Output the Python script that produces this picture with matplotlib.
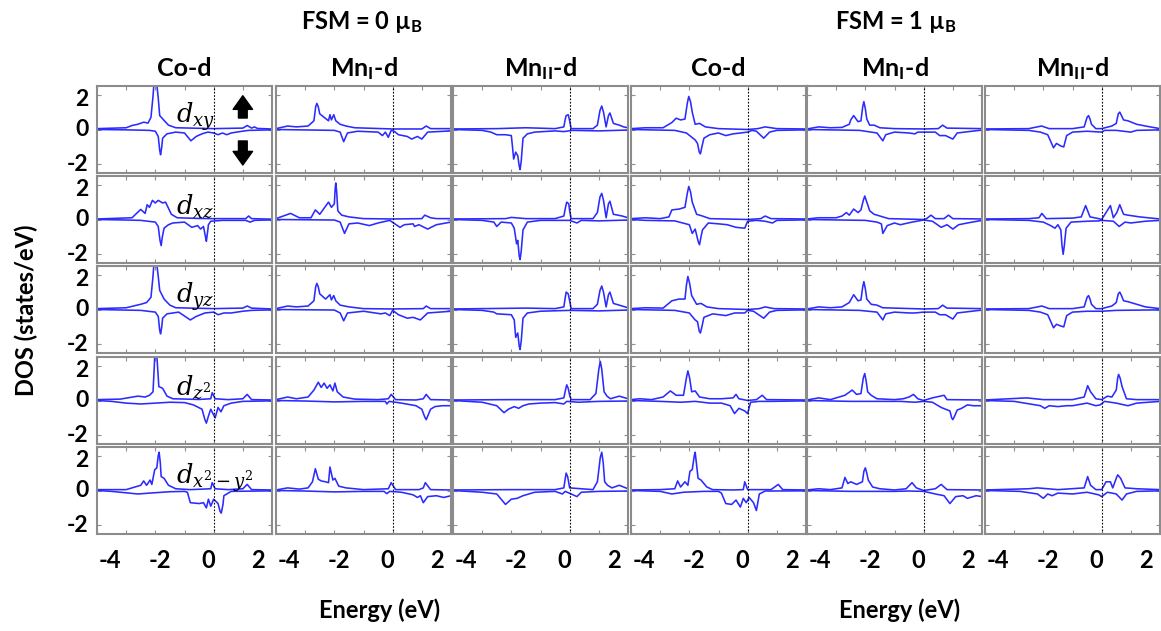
import numpy as np
import matplotlib
matplotlib.use("Agg")
import matplotlib.pyplot as plt
import matplotlib.transforms as mtrans
from matplotlib.patches import FancyArrowPatch

plt.rcParams['font.family'] = ['Lato', 'DejaVu Sans']
plt.rcParams['mathtext.fontset'] = 'custom'
plt.rcParams['mathtext.bf'] = 'Lato:bold'
plt.rcParams['mathtext.it'] = 'DejaVu Serif:italic'
plt.rcParams['mathtext.rm'] = 'DejaVu Serif'

# ---- data: (energy eV, DOS) vertices ----
# rows: d_xy, d_xz, d_yz, d_z2, d_x2-y2 ; up = spin up (>0), dn = spin down (<0)

co_fsm0_up = [
    [(-4, .05), (-3, .1), (-2.8, .23), (-2.6, .3), (-2.4, .42), (-2.25, .37), (-2.15, .7), (-2.08, 1.9), (-2.05, 2.6), (-1.95, 2.6),
     (-1.9, 1.8), (-1.85, .8), (-1.7, .52), (-1.55, .25), (-1.3, .1), (0, .05), (1.0, .08), (1.15, .23), (1.3, .08), (1.4, .15), (1.5, .06), (2, .03)],
    [(-4, .03), (-2.8, .1), (-2.5, .58), (-2.35, .35), (-2.28, .85), (-2.2, .7), (-2.1, 1.1), (-2.0, .95), (-1.9, 1.1), (-1.75, .95),
     (-1.65, 1.0), (-1.45, .3), (-1.25, .1), (-.5, .06), (0, .05), (1.1, .05), (1.2, .2), (1.3, .05), (2, .02)],
    [(-4, .05), (-3, .1), (-2.75, .2), (-2.5, .3), (-2.3, .4), (-2.15, .7), (-2.08, 1.9), (-2.05, 2.6), (-1.95, 2.6), (-1.9, 1.9),
     (-1.85, 1.1), (-1.7, .6), (-1.5, .25), (-1.3, .1), (0, .05), (1.0, .08), (1.15, .2), (1.3, .08), (2, .03)],
    [(-4, .05), (-3.2, .08), (-2.6, .25), (-2.35, .2), (-2.2, .3), (-2.08, .5), (-2.04, 1.8), (-2.02, 2.6), (-1.95, 2.6), (-1.91, 1.6),
     (-1.88, .8), (-1.75, .7), (-1.6, .25), (-1.4, .1), (-.5, .06), (-.1, .1), (-.05, .45), (.05, .1), (.5, .05), (1.0, .1), (1.15, .35),
     (1.3, .05), (2, .03)],
    [(-4, .05), (-3, .05), (-2.5, .3), (-2.4, .55), (-2.3, .3), (-2.18, .6), (-2.12, .35), (-2.02, 1.2), (-1.95, 1.3), (-1.9, 2.0),
     (-1.87, 2.2), (-1.83, 1.6), (-1.8, .8), (-1.7, .7), (-1.55, .3), (-1.3, .1), (-.8, .05), (-.1, .1), (-.05, .45), (.05, .1), (.5, .05),
     (1.0, .1), (1.15, .35), (1.3, .05), (2, .03)],
]
co_fsm0_dn = [
    [(-4, 0), (-3, -.02), (-2.2, -.05), (-2.0, -.1), (-1.9, -.4), (-1.85, -1.2), (-1.82, -1.45), (-1.78, -1.0), (-1.75, -.5),
     (-1.6, -.25), (-1.3, -.15), (-1.0, -.2), (-.78, -.65), (-.6, -.4), (-.4, -.25), (-.2, -.15), (0, -.2), (.15, -.3), (.3, -.2),
     (.45, -.3), (.6, -.2), (.9, -.12), (1.2, -.05), (2, -.02)],
    [(-4, 0), (-3, -.03), (-2.5, -.05), (-2.0, -.15), (-1.9, -.4), (-1.84, -1.2), (-1.8, -1.5), (-1.76, -1.0), (-1.7, -.5),
     (-1.55, -.3), (-1.4, -.2), (-1.0, -.15), (-.75, -.45), (-.55, -.35), (-.45, -.55), (-.35, -.4), (-.28, -1.0), (-.25, -1.25),
     (-.2, -.6), (-.18, -.3), (-.1, -.1), (.3, -.05), (1.1, -.05), (1.25, -.15), (1.4, -.05), (2, -.02)],
    [(-4, 0), (-2.5, -.05), (-2.0, -.15), (-1.9, -.4), (-1.85, -1.2), (-1.82, -1.4), (-1.78, -1.0), (-1.75, -.5), (-1.6, -.25),
     (-1.2, -.15), (-.8, -.6), (-.6, -.4), (-.3, -.2), (0, -.15), (.15, -.3), (.35, -.2), (.6, -.2), (1.0, -.1), (1.3, -.05), (2, -.02)],
    [(-4, 0), (-3.5, -.05), (-3.0, -.15), (-2.5, -.2), (-2.0, -.15), (-1.5, -.1), (-1.0, -.12), (-.7, -.25), (-.4, -.5), (-.3, -1.1),
     (-.25, -1.3), (-.18, -.9), (-.1, -.5), (.05, -1.0), (.15, -.4), (.25, -.65), (.35, -.3), (.6, -.15), (1.0, -.05), (2, -.02)],
    [(-4, 0), (-3.5, -.05), (-2.6, -.2), (-2.2, -.15), (-1.5, -.07), (-1.0, -.05), (-.9, -.1), (-.8, -.7), (-.5, -.75), (-.35, -.7),
     (-.25, -1.0), (-.18, -.5), (-.1, -.9), (0, -.5), (.15, -.75), (.22, -1.2), (.26, -1.3), (.32, -.8), (.35, -.3), (.6, -.05), (2, -.02)],
]

mnI_fsm0_up = [
    [(-4, .05), (-3.6, .2), (-3.3, .15), (-2.9, .2), (-2.7, .5), (-2.64, 1.3), (-2.6, 1.5), (-2.55, 1.3), (-2.5, .9), (-2.35, .7),
     (-2.2, .5), (-2.15, .85), (-2.1, .55), (-2.02, .85), (-1.95, .5), (-1.8, .3), (-1.6, .2), (-1.3, .1), (0, .03), (1.0, .03),
     (1.15, .2), (1.3, .05), (2, .05)],
    [(-4, .05), (-3.5, .35), (-3.2, .1), (-2.8, .1), (-2.65, .55), (-2.5, .3), (-2.35, .65), (-2.2, 1.0), (-2.1, .7), (-2.0, .9),
     (-1.97, 1.8), (-1.95, 2.1), (-1.92, 1.6), (-1.88, .5), (-1.75, .25), (-1.5, .15), (-1.0, .05), (0, .03), (1.0, .05), (1.1, .25),
     (1.3, .1), (1.5, .05), (2, .05)],
    [(-4, .05), (-3.6, .2), (-3.3, .15), (-2.9, .2), (-2.7, .5), (-2.64, 1.3), (-2.6, 1.5), (-2.55, 1.3), (-2.5, .9), (-2.3, .6),
     (-2.15, .85), (-2.1, .55), (-2.02, .8), (-1.95, .5), (-1.8, .25), (-1.5, .15), (-1.0, .05), (0, .03), (1.05, .05), (1.15, .2),
     (1.3, .05), (2, .05)],
    [(-4, .05), (-3.6, .2), (-3.3, .1), (-2.9, .2), (-2.7, .6), (-2.55, 1.05), (-2.45, .75), (-2.35, 1.0), (-2.25, .7), (-2.15, .9),
     (-2.05, .55), (-1.98, 1.0), (-1.9, .5), (-1.7, .2), (-1.3, .08), (-.5, .05), (-.15, .1), (-.05, .35), (.1, .05), (.8, .03),
     (1.05, .1), (1.15, .35), (1.3, .05), (2, .03)],
    [(-4, .03), (-3.6, .15), (-3.2, .08), (-2.9, .15), (-2.75, .5), (-2.65, 1.25), (-2.55, .65), (-2.45, .55), (-2.3, .5), (-2.2, .45),
     (-2.15, 1.35), (-2.05, .6), (-1.98, .7), (-1.85, .25), (-1.6, .15), (-1.0, .05), (-.15, .1), (-.05, .45), (.1, .05), (.9, .05),
     (1.05, .15), (1.12, .45), (1.3, .05), (2, .03)],
]
mnI_fsm0_dn = [
    [(-4, 0), (-2.0, -.05), (-1.8, -.15), (-1.68, -.7), (-1.55, -.2), (-1.2, -.1), (-.5, -.15), (-.35, -.35), (-.25, -.15), (-.15, -.45),
     (-.05, -.05), (.05, -.1), (.2, -.3), (.5, -.4), (.65, -.55), (.85, -.4), (1.0, -.55), (1.2, -.15), (2, -.08)],
    [(-4, 0), (-2.0, -.03), (-1.8, -.15), (-1.65, -.8), (-1.5, -.25), (-1.2, -.2), (-.8, -.35), (-.5, -.2), (-.1, -.05), (.25, -.45),
     (.4, -.3), (.7, -.25), (.75, -.4), (.9, -.3), (1.2, -.55), (1.5, -.3), (2, -.15)],
    [(-4, 0), (-2.0, -.03), (-1.8, -.2), (-1.68, -.65), (-1.55, -.2), (-1.0, -.1), (-.4, -.25), (-.25, -.2), (-.1, -.35), (0, -.05),
     (.2, -.3), (.5, -.5), (.7, -.45), (.95, -.6), (1.2, -.2), (2, -.1)],
    [(-4, 0), (-3, -.03), (-2.0, -.08), (-1.0, -.05), (-.25, -.05), (-.2, -.2), (-.12, -.05), (.3, -.15), (.8, -.3), (1.0, -.5),
     (1.1, -.95), (1.15, -1.1), (1.2, -.9), (1.3, -.5), (1.45, -.35), (1.7, -.3), (2, -.3)],
    [(-4, 0), (-3, -.03), (-2, -.08), (-1.0, -.05), (-.3, -.05), (-.2, -.18), (-.1, -.05), (.3, -.1), (.7, -.25), (.85, -.4),
     (.95, -.3), (1.05, -.7), (1.2, -.35), (1.5, -.3), (1.75, -.4), (2, -.3)],
]

mnII_fsm0_up = [
    [(-4, .03), (-2.5, .05), (-1.5, .1), (-.5, .05), (-.2, .15), (-.15, .6), (-.12, .8), (-.05, .85), (0, .5), (.05, .05), (.8, .05),
     (.95, .25), (1.04, 1.1), (1.1, 1.35), (1.16, 1.0), (1.25, .15), (1.33, .8), (1.38, .95), (1.5, .35), (1.7, .25), (1.85, .15), (2, .1)],
    [(-4, .03), (-2.2, .05), (-2.0, .12), (-1.5, .05), (-.5, .05), (-.2, .2), (-.13, .8), (-.1, 1.0), (-.03, .9), (0, .5), (.05, .05),
     (.8, .05), (.95, .4), (1.04, 1.3), (1.1, 1.5), (1.16, 1.1), (1.25, .1), (1.33, .9), (1.38, 1.05), (1.5, .3), (1.8, .2), (2, .1)],
    [(-4, .03), (-1.5, .08), (-.5, .05), (-.2, .15), (-.15, .7), (-.12, 1.0), (-.05, .9), (0, .5), (.05, .05), (.8, .05), (.95, .3),
     (1.04, 1.1), (1.1, 1.35), (1.16, 1.0), (1.25, .15), (1.33, .85), (1.38, 1.0), (1.5, .35), (1.8, .2), (2, .1)],
    [(-4, .03), (-2, .05), (-.5, .05), (-.2, .15), (-.13, .7), (-.1, .9), (-.05, .7), (0, .3), (.05, .05), (.7, .05), (.9, .4),
     (1.0, 1.8), (1.05, 2.25), (1.1, 1.8), (1.18, .5), (1.28, .25), (1.4, .1), (1.7, .25), (2, .1)],
    [(-4, .03), (-2, .05), (-.5, .05), (-.2, .15), (-.15, .7), (-.12, 1.0), (-.07, .8), (0, .15), (.8, .05), (.95, .5), (1.05, 1.9),
     (1.1, 2.2), (1.15, 1.6), (1.2, .5), (1.3, .3), (1.45, .15), (1.7, .3), (2, .1)],
]
mnII_fsm0_dn = [
    [(-4, 0), (-3.0, -.05), (-2.7, -.15), (-2.5, -.3), (-2.2, -.3), (-2.0, -.35), (-1.96, -1.0), (-1.92, -1.7), (-1.85, -1.3),
     (-1.78, -1.5), (-1.73, -2.1), (-1.7, -2.3), (-1.66, -1.8), (-1.6, -.5), (-1.45, -.25), (-1.2, -.15), (-.5, -.08), (-.2, -.12),
     (.1, -.05), (1.0, -.08), (2, -.03)],
    [(-4, 0), (-3.0, -.05), (-2.6, -.15), (-2.5, -.4), (-2.35, -.15), (-2.0, -.2), (-1.9, -.5), (-1.82, -1.4), (-1.78, -1.2),
     (-1.73, -2.1), (-1.7, -2.3), (-1.66, -1.8), (-1.6, -.6), (-1.45, -.15), (-1.0, -.05), (0, -.05), (.25, -.2), (.4, -.05),
     (1.0, -.08), (2, -.03)],
    [(-4, 0), (-3, -.05), (-2.6, -.15), (-2.5, -.25), (-2.0, -.3), (-1.9, -.6), (-1.85, -1.6), (-1.78, -1.35), (-1.73, -2.1),
     (-1.7, -2.3), (-1.66, -1.8), (-1.6, -.5), (-1.45, -.2), (-1.0, -.1), (0, -.05), (1.0, -.08), (2, -.03)],
    [(-4, 0), (-3.5, -.05), (-3.0, -.1), (-2.5, -.3), (-2.25, -.7), (-2.1, -.5), (-1.9, -.35), (-1.75, -.45), (-1.6, -.3),
     (-1.4, -.2), (-1.0, -.15), (-.5, -.12), (-.2, -.2), (-.1, -.05), (.3, -.1), (1.0, -.05), (2, -.03)],
    [(-4, 0), (-3.0, -.1), (-2.5, -.2), (-2.2, -.8), (-2.0, -.5), (-1.8, -.45), (-1.6, -.3), (-1.2, -.1), (-.5, -.05), (-.25, -.2),
     (-.15, -.05), (.25, -.35), (.4, -.1), (1.0, -.05), (2, -.03)],
]

co_fsm1_up = [
    [(-4, .05), (-3.5, .1), (-2.9, .1), (-2.6, .4), (-2.45, .65), (-2.3, .55), (-2.15, .6), (-2.07, 1.5), (-2.02, 1.9), (-1.96, 1.6),
     (-1.9, 1.0), (-1.8, .3), (-1.65, .35), (-1.45, .15), (-1.0, .05), (0, 0), (.35, .05), (.6, .15), (1.0, .05), (2, .03)],
    [(-4, .05), (-3.5, .1), (-3.0, .05), (-2.7, .15), (-2.6, .55), (-2.35, .6), (-2.15, .7), (-2.07, 1.5), (-2.02, 1.9), (-1.96, 1.6),
     (-1.9, 1.0), (-1.75, .3), (-1.55, .2), (-1.3, .05), (0, 0), (.45, .05), (.6, .2), (.8, .05), (2, .03)],
    [(-4, .05), (-3.5, .1), (-2.9, .08), (-2.6, .5), (-2.35, .6), (-2.15, .6), (-2.1, 1.4), (-2.05, 1.9), (-1.99, 1.5), (-1.92, .8),
     (-1.75, .3), (-1.6, .35), (-1.4, .15), (-1.0, .05), (0, 0), (.4, .05), (.6, .15), (.9, .05), (2, .03)],
    [(-4, .05), (-3.7, .1), (-3.3, .05), (-2.9, .2), (-2.65, .55), (-2.45, .3), (-2.2, .3), (-2.1, 1.3), (-2.05, 1.7), (-1.99, 1.3),
     (-1.92, .5), (-1.8, .55), (-1.65, .2), (-1.3, .1), (-.9, .1), (-.5, .15), (-.4, .35), (-.3, .1), (0, 0), (.3, .05), (.5, .3),
     (.65, .05), (2, .03)],
    [(-4, .03), (-3.0, .05), (-2.5, .1), (-2.4, .55), (-2.3, .2), (-2.15, .5), (-2.05, .3), (-1.98, 1.1), (-1.9, 1.2), (-1.83, 2.0),
     (-1.8, 2.2), (-1.76, 1.6), (-1.7, .7), (-1.6, .6), (-1.4, .2), (-1.2, .05), (-.5, .03), (-.15, .05), (-.1, .5), (0, .05),
     (.8, .05), (1.05, .35), (1.2, .05), (2, .03)],
]
co_fsm1_dn = [
    [(-4, 0), (-2.5, -.05), (-2.1, -.2), (-1.8, -.6), (-1.72, -.8), (-1.66, -1.3), (-1.62, -1.4), (-1.57, -1.0), (-1.5, -.5),
     (-1.3, -.3), (-1.0, -.2), (-.75, -.35), (-.5, -.25), (-.25, -.2), (0, -.15), (.15, -.05), (.3, -.1), (.55, -.5), (.75, -.15),
     (1.0, -.05), (2, -.02)],
    [(-4, 0), (-3.5, -.05), (-2.5, -.08), (-2.0, -.3), (-1.9, -.8), (-1.8, -.55), (-1.69, -1.3), (-1.65, -1.45), (-1.6, -1.0),
     (-1.55, -.6), (-1.35, -.2), (-1.0, -.25), (-.7, -.3), (-.4, -.45), (-.1, -.5), (0, -.1), (.3, -.05), (.6, -.1), (.85, -.2),
     (1.0, -.05), (2, -.02)],
    [(-4, 0), (-2.5, -.05), (-2.0, -.2), (-1.8, -.6), (-1.72, -.7), (-1.66, -1.25), (-1.62, -1.35), (-1.57, -1.0), (-1.5, -.45),
     (-1.2, -.25), (-.75, -.35), (-.45, -.2), (-.1, -.2), (0, -.05), (.2, -.1), (.55, -.5), (.75, -.15), (1.0, -.05), (2, -.02)],
    [(-4, 0), (-3.0, -.05), (-2.3, -.1), (-1.8, -.05), (-1.3, -.15), (-.9, -.15), (-.6, -.3), (-.45, -.75), (-.3, -.45),
     (-.1, -.6), (0, -.75), (.1, -.1), (.4, -.05), (.8, -.05), (2, -.02)],
    [(-4, 0), (-3.0, -.05), (-2.6, -.2), (-2.2, -.1), (-1.5, -.05), (-1.0, -.05), (-.9, -.15), (-.75, -.75), (-.55, -.8),
     (-.4, -.55), (-.25, -.95), (-.15, -.45), (-.05, -.7), (.05, -.4), (.2, -.7), (.3, -1.15), (.4, -.2), (.6, -.03), (2, -.02)],
]

mnI_fsm1_up = [
    [(-4, .03), (-3.6, .15), (-3.2, .1), (-2.8, .12), (-2.55, .3), (-2.5, .55), (-2.4, .8), (-2.25, .45), (-2.15, .5),
     (-2.09, 1.3), (-2.05, 1.6), (-2.0, 1.2), (-1.95, .6), (-1.85, .25), (-1.7, .25), (-1.5, .1), (-1.0, .05), (0, .03), (.5, .05),
     (.65, .25), (.8, .08), (2, .05)],
    [(-4, .03), (-3.6, .1), (-3.0, .1), (-2.8, .2), (-2.65, .4), (-2.55, .25), (-2.4, .6), (-2.25, .4), (-2.15, .55), (-2.07, 1.1),
     (-2.02, 1.35), (-1.95, 1.0), (-1.85, .5), (-1.7, .3), (-1.5, .2), (-1.2, .05), (0, 0), (.1, .05), (.25, .25), (.4, .05),
     (.7, .05), (.85, .25), (1.0, .05), (2, .03)],
    [(-4, .03), (-3.6, .15), (-3.2, .1), (-2.8, .15), (-2.55, .4), (-2.4, .85), (-2.25, .5), (-2.15, .55), (-2.09, 1.3),
     (-2.05, 1.6), (-2.0, 1.2), (-1.95, .6), (-1.8, .3), (-1.6, .25), (-1.4, .1), (0, .03), (.5, .05), (.65, .25), (.8, .08), (2, .05)],
    [(-4, .03), (-3.6, .15), (-3.2, .05), (-2.7, .3), (-2.45, .6), (-2.3, .35), (-2.15, .4), (-2.07, 1.3), (-2.02, 1.55),
     (-1.97, 1.1), (-1.92, .5), (-1.8, .3), (-1.6, .1), (-1.0, .05), (-.7, .1), (-.5, .2), (-.35, .35), (-.2, .1), (0, 0),
     (.3, .15), (.7, .3), (.8, .05), (2, .03)],
    [(-4, .03), (-3.6, .1), (-3.2, .05), (-2.8, .15), (-2.7, .75), (-2.6, .4), (-2.5, .5), (-2.3, .35), (-2.1, .5), (-2.05, 1.1),
     (-2.0, 1.3), (-1.95, 1.0), (-1.9, .6), (-1.75, .2), (-1.5, .1), (-1.0, .03), (-.6, .1), (-.4, .45), (-.25, .15), (0, 0),
     (.4, .1), (.6, .35), (.8, .05), (2, .03)],
]
mnI_fsm1_dn = [
    [(-4, 0), (-2.2, -.05), (-1.6, -.2), (-1.4, -.65), (-1.3, -.3), (-1.0, -.15), (-.5, -.2), (-.3, -.25), (-.2, -.15), (0, -.15),
     (.4, -.15), (.55, -.35), (.75, -.35), (1.0, -.55), (1.15, -.2), (2, -.03)],
    [(-4, 0), (-2, -.05), (-1.6, -.15), (-1.45, -.25), (-1.4, -.8), (-1.25, -.35), (-1.0, -.2), (-.8, -.3), (-.4, -.15), (0, -.03),
     (.3, -.1), (.6, -.45), (.8, -.3), (1.0, -.55), (1.2, -.3), (1.5, -.2), (2, -.05)],
    [(-4, 0), (-2.2, -.05), (-1.6, -.15), (-1.4, -.6), (-1.3, -.25), (-1.0, -.15), (-.5, -.2), (-.3, -.2), (0, -.15), (.4, -.15),
     (.55, -.3), (.75, -.3), (1.0, -.55), (1.15, -.2), (2, -.03)],
    [(-4, 0), (-2.5, -.05), (-1.5, -.05), (-.8, -.05), (-.3, -.1), (0, -.05), (.3, -.1), (.6, -.4), (.9, -.6), (.96, -1.0),
     (1.0, -1.1), (1.06, -.9), (1.15, -.55), (1.3, -.45), (1.5, -.25), (1.7, -.3), (2, -.3)],
    [(-4, 0), (-2.5, -.05), (-1.5, -.05), (-1.0, -.05), (-.5, -.03), (0, -.05), (.4, -.2), (.7, -.3), (.9, -.75), (1.1, -.35),
     (1.35, -.3), (1.5, -.45), (1.8, -.3), (2, -.35)],
]

mnII_fsm1_up = [
    [(-4, .03), (-2.5, .05), (-2.06, .2), (-1.8, .05), (-1.0, .05), (-.6, .15), (-.5, .7), (-.45, .8), (-.4, .6), (-.35, .3),
     (-.2, .05), (0, .05), (.35, .2), (.5, .35), (.57, .9), (.62, 1.0), (.68, .8), (.75, .55), (.9, .5), (1.2, .3), (1.5, .2), (2, .05)],
    [(-4, .03), (-2.5, .05), (-2.15, .1), (-2.05, .35), (-1.9, .05), (-1.0, .08), (-.7, .15), (-.55, .8), (-.4, .15), (-.1, .05),
     (0, 0), (.15, .4), (.3, .8), (.4, .1), (.52, .4), (.62, .85), (.75, .3), (.9, .25), (1.3, .15), (2, .03)],
    [(-4, .03), (-2.5, .05), (-2.05, .2), (-1.8, .05), (-1.0, .05), (-.6, .15), (-.5, .7), (-.45, .8), (-.4, .6), (-.35, .3),
     (-.2, .05), (0, .05), (.35, .2), (.5, .4), (.57, .9), (.62, 1.0), (.68, .8), (.75, .5), (.9, .45), (1.2, .3), (1.5, .15), (2, .05)],
    [(-4, .03), (-2.57, .15), (-2.0, .05), (-1.0, .05), (-.6, .2), (-.48, .85), (-.38, .5), (-.2, .1), (0, .05), (.2, .25),
     (.35, .2), (.5, .6), (.55, 1.3), (.58, 1.5), (.63, 1.3), (.7, .8), (.85, .1), (1.2, .05), (2, .05)],
    [(-4, .03), (-2.5, .1), (-2.2, .15), (-1.5, .05), (-.6, .15), (-.48, .8), (-.38, .3), (-.2, .05), (0, .05), (.15, .5),
     (.3, .5), (.38, .15), (.5, .7), (.55, .9), (.65, .7), (.8, .15), (1.2, .1), (2, .05)],
]
mnII_fsm1_dn = [
    [(-4, 0), (-2.5, -.05), (-2.1, -.15), (-1.85, -.3), (-1.65, -1.05), (-1.55, -.8), (-1.4, -.95), (-1.3, -1.0), (-1.2, -.35),
     (-1.0, -.15), (-.5, -.1), (0, -.15), (.1, -.05), (.5, -.05), (1.0, -.15), (1.2, -.05), (2, -.02)],
    [(-4, 0), (-2.5, -.05), (-2.0, -.15), (-1.75, -.35), (-1.6, -.5), (-1.5, -.3), (-1.4, -.6), (-1.36, -1.5), (-1.32, -2.0),
     (-1.28, -1.5), (-1.22, -.5), (-1.05, -.15), (-.5, -.1), (-.1, -.08), (0, -.05), (.4, -.1), (.6, -.4), (.8, -.15), (1.0, -.2),
     (1.5, -.1), (2, -.05)],
    [(-4, 0), (-2.5, -.05), (-2.1, -.15), (-1.85, -.3), (-1.65, -1.05), (-1.55, -.85), (-1.4, -.95), (-1.3, -1.0), (-1.2, -.35),
     (-1.0, -.15), (-.5, -.1), (0, -.1), (.5, -.05), (2, -.02)],
    [(-4, 0), (-3.0, -.05), (-2.1, -.3), (-1.95, -.45), (-1.8, -.3), (-1.5, -.35), (-1.2, -.3), (-1.0, -.3), (-.5, -.15),
     (-.2, -.3), (-.05, -.25), (.1, -.05), (.5, -.15), (.9, -.3), (1.2, -.15), (2, -.05)],
    [(-4, 0), (-2.8, -.05), (-2.2, -.2), (-2.0, -.45), (-1.85, -.2), (-1.7, -.3), (-1.5, -.15), (-1.0, -.2), (-.5, -.1),
     (-.1, -.25), (0, -.35), (.2, -.1), (.5, -.2), (.7, -.55), (.85, -.2), (1.2, -.05), (2, -.02)],
]

columns_up = [co_fsm0_up, mnI_fsm0_up, mnII_fsm0_up, co_fsm1_up, mnI_fsm1_up, mnII_fsm1_up]
columns_dn = [co_fsm0_dn, mnI_fsm0_dn, mnII_fsm0_dn, co_fsm1_dn, mnI_fsm1_dn, mnII_fsm1_dn]
col_titles = ['Co-d', r'Mn$_{\mathbf{I}}$-d', r'Mn$_{\mathbf{II}}$-d', 'Co-d', r'Mn$_{\mathbf{I}}$-d', r'Mn$_{\mathbf{II}}$-d']
orbitals = [r'$d_{xy}$', r'$d_{xz}$', r'$d_{yz}$', r'$d_{z^2}$', r'$d_{x^2-y^2}$']
group_titles = [u'FSM = 0 \u00b5$_{\mathbf{B}}$', u'FSM = 1 \u00b5$_{\mathbf{B}}$']
xtick_vals = [-4, -2, 0, 2]
ytick_vals = [-2, 0, 2]

# ---- layout (pixels) ----
W, H = 1161, 631
col_left = [97, 276, 453, 631, 807, 985]
row_top = [86, 176, 266, 357, 447]
pw, ph = 175, 87
xlab_shift = [13, 5, -5, -14]   # tick labels sit inward in the original figure
ylab_shift = [2, 2, -3]         # (for -2, 0, 2) pixels upward

fig = plt.figure(figsize=(W / 100, H / 100), dpi=100)
fig.patch.set_facecolor('white')

def fx(px):
    return px / W

def fy(py):
    return 1 - py / H

for c in range(6):
    for r in range(5):
        ax = fig.add_axes([fx(col_left[c]), fy(row_top[r] + ph), pw / W, ph / H])
        e_up, v_up = np.array(columns_up[c][r]).T
        e_dn, v_dn = np.array(columns_dn[c][r]).T
        ax.plot(e_up, v_up, color='#2b2bff', lw=1.15)
        ax.plot(e_dn, v_dn, color='#2b2bff', lw=1.15)
        ax.axvline(0, color='black', lw=0.8, ls=(0, (1.5, 1.5)))
        ax.set_xlim(-4, 2)
        ax.set_ylim(-2.5, 2.5)
        ax.set_xticks(xtick_vals)
        ax.set_xticks([-3, -1, 1], minor=True)
        ax.set_yticks(ytick_vals)
        ax.tick_params(which='both', direction='in', length=3, width=0.8, color='#909090',
                       top=True, right=True, labelsize=17)
        ax.tick_params(axis='x', pad=11)
        ax.tick_params(axis='y', pad=6, labelsize=16.5)
        for s in ax.spines.values():
            s.set_color('#8c8c8c')
            s.set_linewidth(1.5)
        if r == 4:
            ax.set_xticklabels([str(v) for v in xtick_vals], fontweight='bold')
            for lbl, dx in zip(ax.get_xticklabels(), xlab_shift):
                lbl.set_transform(lbl.get_transform() + mtrans.ScaledTranslation(dx / 100, 0, fig.dpi_scale_trans))
        else:
            ax.set_xticklabels([])
        if c == 0:
            ax.set_yticklabels([str(v) for v in ytick_vals], fontweight='bold')
            for lbl, dy in zip(ax.get_yticklabels(), ylab_shift):
                lbl.set_transform(lbl.get_transform() + mtrans.ScaledTranslation(0, dy / 100, fig.dpi_scale_trans))
            ax.text(-1.28, 0.72, orbitals[r], fontsize=18.5, fontweight='normal', ha='left', va='center')
        else:
            ax.set_yticklabels([])
        if r == 0:
            ax.set_title(col_titles[c], fontsize=18, fontweight='bold', pad=7)
        if c == 0 and r == 0:
            style = 'simple,head_length=0.7,head_width=1.0,tail_width=0.45'
            ax.add_patch(FancyArrowPatch((1.0, 0.5), (1.0, 2.1), arrowstyle=style, mutation_scale=14, color='black'))
            ax.add_patch(FancyArrowPatch((1.0, -0.5), (1.0, -2.2), arrowstyle=style, mutation_scale=14, color='black'))

fig.text(fx(362), fy(22), group_titles[0], fontsize=17, fontweight='bold', ha='center', va='center')
fig.text(fx(896), fy(22), group_titles[1], fontsize=17, fontweight='bold', ha='center', va='center')
fig.text(fx(26), fy(310), 'DOS (states/eV)', fontsize=17, fontweight='bold', ha='center', va='center', rotation=90)
fig.text(fx(380), fy(610), 'Energy (eV)', fontsize=17, fontweight='bold', ha='center', va='center')
fig.text(fx(900), fy(610), 'Energy (eV)', fontsize=17, fontweight='bold', ha='center', va='center')

fig.savefig('out.png', dpi=100)
